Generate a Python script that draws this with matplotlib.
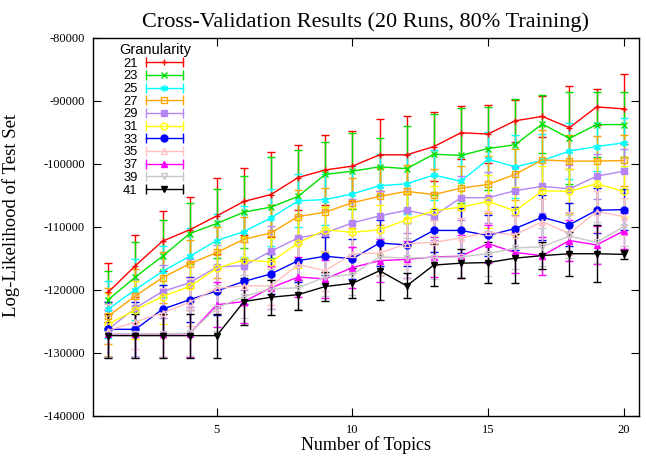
import matplotlib
matplotlib.use("Agg")
import matplotlib.pyplot as plt
import matplotlib.ticker as ticker
from matplotlib.lines import Line2D
from matplotlib.legend_handler import HandlerLine2D, HandlerTuple

# ==========================================
# DATA
# ==========================================
TOPICS = list(range(1, 21))
GRANULARITY = [21, 23, 25, 27, 29, 31, 33, 35, 37, 39, 41]

MEAN_21 = [-120400, -116200, -112300, -110500, -108300, -106000, -104900, -102200, -101000, -100400,
           -98600, -98600, -97300, -95100, -95300, -93200, -92500, -94300, -91000, -91300]
MEAN_23 = [-121600, -118000, -114700, -111100, -109500, -107700, -106900, -105200, -101700, -101200,
           -100500, -100800, -98500, -98700, -97600, -97000, -93700, -96000, -93800, -93800]
MEAN_25 = [-123100, -120000, -117100, -114700, -112200, -110800, -108600, -105900, -105700, -104800,
           -103500, -103200, -101800, -102800, -99300, -100500, -99500, -98000, -97300, -96700]
MEAN_27 = [-124200, -121000, -118100, -115900, -114100, -112000, -111000, -108400, -107700, -106200,
           -105200, -104400, -104900, -103900, -103300, -101700, -99400, -99600, -99600, -99500]
MEAN_29 = [-126300, -122900, -120300, -118900, -116400, -116200, -113900, -111800, -111000, -109400,
           -108300, -107400, -108300, -105400, -105400, -104300, -103600, -104000, -102000, -101200]
MEAN_31 = [-125500, -123200, -121100, -119500, -116600, -115300, -115600, -112600, -110500, -110900,
           -110500, -108900, -107500, -106900, -106000, -107500, -104300, -104400, -103200, -104400]
MEAN_33 = [-126300, -126300, -123100, -121600, -120200, -118700, -117500, -115400, -114700, -115100,
           -112600, -112900, -110600, -110600, -111400, -110300, -108500, -109700, -107400, -107300]
MEAN_35 = [-126500, -125100, -123700, -122000, -119800, -119400, -119400, -116000, -117000, -114300,
           -114200, -112700, -112500, -111800, -110900, -111300, -109200, -111100, -107600, -108400]
MEAN_37 = [-127000, -127000, -127000, -127000, -122400, -121900, -119700, -118000, -118300, -116500,
           -115400, -115200, -114800, -114700, -112700, -114100, -114600, -112200, -112900, -110700]
MEAN_39 = [-127000, -127000, -127000, -126900, -122900, -121100, -119900, -119700, -118000, -117600,
           -114800, -115000, -114900, -114800, -114300, -113400, -113200, -111500, -112500, -110000]
MEAN_41 = [-127300, -127300, -127300, -127300, -127300, -121900, -121200, -120800, -119500, -119000,
           -117000, -119400, -116100, -115800, -115700, -115000, -114600, -114300, -114300, -114400]

ERR_21 = [4700, 4900, 4800, 5200, 6000, 5300, 6800, 5100, 5500, 5600,
          5700, 6200, 5500, 4200, 4600, 3300, 3300, 6600, 2900, 5600]
ERR_23 = [4500, 5500, 5800, 4800, 5500, 5700, 8000, 7400, 5200, 6000,
          4500, 6800, 6400, 7600, 6600, 7200, 4600, 7300, 5100, 5100]
ERR_25 = [4500, 4800, 4000, 4500, 4200, 4000, 4500, 4200, 4000, 4500,
          5000, 4800, 4000, 4200, 4400, 5000, 4200, 4500, 3800, 4000]
ERR_27 = [4500, 4200, 4000, 3800, 4000, 3500, 4500, 4200, 3800, 4000,
          4500, 4200, 4000, 3500, 4500, 4000, 4800, 4200, 4000, 4000]
ERR_29 = [4400, 4600, 4200, 3800, 3500, 3800, 4000, 3500, 3600, 3800,
          4000, 3600, 3800, 3500, 4000, 3800, 4200, 3800, 3600, 3500]
ERR_31 = [5000, 4600, 4400, 3800, 4000, 3600, 3800, 4000, 3600, 3800,
          4000, 4200, 4000, 3800, 4200, 3800, 4000, 3600, 3800, 4000]
ERR_33 = [4400, 4400, 3800, 3600, 3800, 3600, 3200, 3400, 3000, 3200,
          3600, 3400, 3400, 3600, 3200, 3400, 3600, 3400, 3600, 3200]
ERR_35 = [4200, 4400, 4000, 3800, 3600, 3200, 3000, 3400, 3200, 3000,
          3400, 3200, 3600, 3200, 3400, 3000, 3600, 3400, 3200, 3000]
ERR_37 = [3700, 3700, 3700, 3700, 3600, 3400, 3400, 3200, 3000, 3200,
          3400, 3000, 3200, 3400, 3000, 3200, 3000, 3200, 3000, 2800]
ERR_39 = [3700, 3700, 3700, 3700, 3600, 3400, 3200, 3400, 3000, 3200,
          3000, 3200, 3400, 3200, 3600, 3400, 3000, 3400, 3200, 3000]
ERR_41 = [3500, 3500, 3500, 3500, 3500, 3700, 2800, 2400, 2300, 2400,
          4600, 2000, 3300, 2300, 3200, 3900, 2200, 3500, 4500, 700]

MEANS = [MEAN_21, MEAN_23, MEAN_25, MEAN_27, MEAN_29, MEAN_31,
         MEAN_33, MEAN_35, MEAN_37, MEAN_39, MEAN_41]
ERRS = [ERR_21, ERR_23, ERR_25, ERR_27, ERR_29, ERR_31,
        ERR_33, ERR_35, ERR_37, ERR_39, ERR_41]

# gnuplot-like styles: (color, marker, filled)
STYLES = [
    ("#ff0000", "+", True),
    ("#00e000", "x", True),
    ("#00ffff", (6, 2, 0), True),
    ("#ffa500", "s", False),
    ("#b585f5", "s", True),
    ("#ffff00", "o", False),
    ("#0000ff", "o", True),
    ("#ffc0c0", "^", False),
    ("#ff00ff", "^", True),
    ("#c8c8c8", "v", False),
    ("#000000", "v", True),
]


class CapLine(Line2D):
    pass


SERIF = "Liberation Serif"

fig = plt.figure(figsize=(6.46, 4.58), dpi=100)
ax = fig.add_axes([0.1445, 0.0925, 0.844, 0.8253])

handles = []
for g, mean, err, (c, m, filled) in zip(GRANULARITY, MEANS, ERRS, STYLES):
    face = c if filled else "none"
    ax.errorbar(TOPICS, mean, yerr=err, color=c, ecolor=c, elinewidth=1.0,
                linewidth=1.0, capsize=2.8, capthick=1.0, marker=m,
                markersize=5, markerfacecolor=face, markeredgecolor=c,
                markeredgewidth=1.0)
    cap = CapLine([], [], color=c, linewidth=1.0, marker="|",
                  markersize=7, markeredgewidth=1.0)
    mark = Line2D([], [], color=c, linestyle="none", marker=m, markersize=5,
                  markerfacecolor=face, markeredgecolor=c, markeredgewidth=1.0)
    handles.append((cap, mark))

ax.set_xlim(0.45, 20.55)
ax.set_ylim(-140000, -80000)
ax.xaxis.set_major_locator(ticker.FixedLocator([5, 10, 15, 20]))
ax.yaxis.set_major_locator(ticker.MultipleLocator(10000))
ax.yaxis.set_major_formatter(ticker.FuncFormatter(lambda v, p: f"{int(v)}"))
ax.tick_params(direction="in", length=6, width=0.8, top=True, right=True,
               labelsize=9, pad=6)
for lab in ax.get_xticklabels() + ax.get_yticklabels():
    lab.set_fontfamily(SERIF)
for s in ax.spines.values():
    s.set_linewidth(1.0)

ax.set_title("Cross-Validation Results (20 Runs, 80% Training)",
             fontfamily=SERIF, fontsize=16, pad=8)
ax.set_xlabel("Number of Topics", fontfamily=SERIF, fontsize=13, labelpad=0)
ax.set_ylabel("Log-Likelihood of Test Set", fontfamily=SERIF, fontsize=13.5)
ax.yaxis.set_label_coords(-0.135, 0.53)

leg = ax.legend(handles, [str(g) for g in GRANULARITY], title="Granularity",
                loc="upper left", bbox_to_anchor=(0.035, 1.003), frameon=False,
                markerfirst=False,
                prop={"family": "Liberation Sans", "size": 9.3},
                title_fontproperties={"family": "Liberation Sans", "size": 10.5},
                handlelength=3.45, handletextpad=0.35, labelspacing=0.05,
                borderaxespad=0.1,
                handler_map={CapLine: HandlerLine2D(numpoints=2),
                             tuple: HandlerTuple(ndivide=1)})

fig.savefig("out.png", dpi=100)
